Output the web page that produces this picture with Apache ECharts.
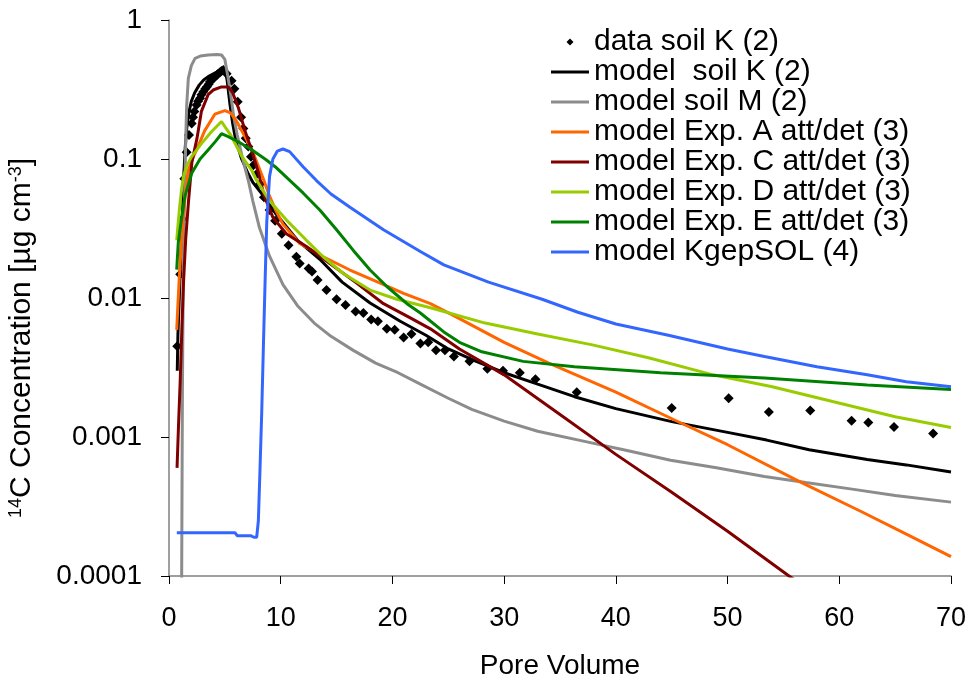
<!DOCTYPE html>
<html><head><meta charset="utf-8">
<script src="https://cdn.jsdelivr.net/npm/echarts@6/dist/echarts.min.js"></script>
<style>html,body{margin:0;padding:0;background:#fff}#c{width:969px;height:679px}</style>
</head><body><div id="c"></div>
<script>
const seriesNames = ['data soil K (2)','model  soil K (2)','model soil M (2)','model Exp. A att/det (3)','model Exp. C att/det (3)','model Exp. D att/det (3)','model Exp. E att/det (3)','model KgepSOL (4)'];
const seriesColors = ['#000000','#000000','#8c8c8c','#ff6600','#800000','#99cc00','#008000','#3366ff'];
const yTickLabels = ['0.0001','0.001','0.01','0.1','1'];

const dataSoilK = [[0.74,0.0045],[1.0,0.0148],[1.2,0.037],[1.37,0.072],[1.58,0.112],[1.79,0.149],[2.03,0.18],[2.15,0.2],[2.27,0.22],[2.47,0.245],[2.6,0.26],[2.78,0.273],[2.9,0.29],[3.07,0.305],[3.25,0.32],[3.4,0.331],[3.55,0.345],[3.67,0.36],[3.8,0.37],[3.97,0.38],[4.1,0.39],[4.27,0.40],[4.4,0.41],[4.57,0.42],[4.7,0.43],[4.86,0.437],[5.16,0.41],[5.6,0.366],[5.85,0.32],[6.15,0.258],[6.45,0.2],[6.65,0.166],[6.87,0.141],[7.1,0.123],[7.34,0.104],[7.55,0.09],[7.85,0.078],[8.15,0.066],[8.5,0.053],[9.0,0.043],[9.5,0.036],[10.1,0.029],[10.7,0.024],[11.4,0.0198],[11.7,0.0177],[12.5,0.0163],[12.8,0.0155],[13.3,0.0135],[14.1,0.0114],[15.0,0.0098],[15.8,0.0089],[16.7,0.008],[17.4,0.0078],[18.1,0.007],[18.7,0.0068],[19.5,0.006],[20.2,0.0059],[21.0,0.0052],[21.7,0.0055],[22.5,0.0047],[23.2,0.0048],[23.9,0.0042],[24.7,0.0042],[25.5,0.0038],[26.9,0.0035],[28.5,0.0031],[29.9,0.003],[31.4,0.0029],[32.8,0.0026],[36.5,0.0021],[45,0.00162],[50.1,0.0019],[53.7,0.00151],[57.4,0.00155],[61.1,0.00131],[62.6,0.00127],[64.9,0.00118],[68.4,0.00106]];

const modelSoilK = [[0.74,0.003],[0.8,0.0055],[1.0,0.015],[1.2,0.037],[1.3,0.07],[1.45,0.12],[1.6,0.17],[1.8,0.22],[2.0,0.26],[2.3,0.3],[2.7,0.34],[3.1,0.37],[3.6,0.395],[4.1,0.415],[4.5,0.43],[4.85,0.437],[5.05,0.42],[5.2,0.37],[5.45,0.25],[5.7,0.18],[5.95,0.14],[6.5,0.1],[7.1,0.078],[7.5,0.068],[8.4,0.055],[9.6,0.04],[11.5,0.026],[13.5,0.019],[15.5,0.013],[18,0.0092],[20.7,0.0068],[23,0.0054],[25,0.0043],[27.5,0.0035],[30,0.0029],[33,0.0024],[36.3,0.00195],[40,0.0016],[45,0.00129],[50,0.00108],[53.5,0.00095],[57.3,0.00081],[62.5,0.00069],[66,0.00063],[70,0.00056]];

const modelSoilM = [[1.12,0.00005],[1.15,0.0002],[1.2,0.002],[1.27,0.012],[1.35,0.035],[1.43,0.07],[1.5,0.14],[1.58,0.24],[1.73,0.38],[2.0,0.47],[2.33,0.53],[2.8,0.55],[3.5,0.56],[4.3,0.565],[4.7,0.56],[5.0,0.52],[5.25,0.4],[5.5,0.3],[5.8,0.2],[6.1,0.15],[6.6,0.1],[7.1,0.07],[7.5,0.05],[8.1,0.032],[9.0,0.02],[10.2,0.0125],[11.5,0.0088],[13,0.0066],[14.5,0.0053],[16.5,0.0042],[18.5,0.0034],[20.5,0.0029],[22.5,0.0024],[25,0.0019],[27.1,0.00158],[30,0.0013],[33,0.0011],[37.2,0.00093],[41,0.0008],[44.9,0.00068],[49,0.0006],[53.3,0.00052],[57,0.00047],[61.3,0.00042],[65,0.00038],[70,0.00034]];

const modelExpA = [[0.69,0.0059],[0.8,0.009],[0.92,0.014],[1.05,0.021],[1.22,0.034],[1.45,0.055],[1.73,0.083],[2.1,0.1],[2.5,0.118],[3.2,0.16],[4.1,0.21],[5.0,0.223],[5.5,0.215],[6.0,0.19],[6.6,0.155],[7.4,0.118],[7.9,0.093],[8.5,0.07],[9.0,0.054],[9.6,0.042],[10.2,0.034],[11.7,0.0247],[13.8,0.0198],[16.2,0.0159],[18.6,0.0131],[21,0.0108],[23.4,0.0091],[26,0.0071],[30,0.0048],[34,0.0034],[40,0.0021],[45.3,0.00132],[50,0.00088],[56.4,0.00048],[62,0.00029],[66,0.0002],[70,0.000138]];

const modelExpC = [[0.72,0.0006],[0.85,0.0012],[1.0,0.0025],[1.15,0.006],[1.3,0.013],[1.5,0.027],[1.75,0.05],[2.05,0.095],[2.5,0.14],[2.9,0.22],[3.5,0.29],[4.0,0.315],[4.7,0.33],[5.3,0.33],[5.7,0.3],[6.2,0.235],[6.8,0.16],[7.4,0.115],[8.0,0.08],[8.5,0.055],[9.3,0.038],[10.5,0.029],[12.3,0.0235],[14.4,0.0177],[16.8,0.0128],[19.2,0.0091],[21.6,0.0072],[23.4,0.006],[26,0.0043],[30,0.0028],[35,0.00145],[40,0.00075],[45,0.0004],[50,0.00021],[55.5,0.0001],[57,0.000083]];

const modelExpD = [[0.69,0.026],[0.8,0.033],[0.95,0.045],[1.1,0.058],[1.28,0.074],[1.6,0.09],[2.03,0.104],[2.9,0.129],[3.8,0.157],[4.7,0.186],[5.0,0.171],[5.5,0.15],[6.5,0.105],[7.4,0.083],[7.85,0.07],[9.0,0.05],[10.5,0.0365],[12.3,0.026],[13.8,0.0198],[15.6,0.015],[18,0.0114],[20.4,0.0098],[23.4,0.0085],[28.3,0.0066],[33,0.0055],[37.9,0.0046],[43,0.0037],[48.7,0.0028],[54,0.0023],[59.4,0.0018],[65,0.0014],[70,0.00117]];

const modelExpE = [[0.69,0.016],[0.83,0.025],[1.05,0.034],[1.43,0.054],[2.03,0.079],[2.78,0.1],[3.5,0.116],[4.2,0.135],[4.7,0.152],[5.3,0.145],[6.2,0.133],[7.3,0.118],[8.6,0.1],[9.5,0.088],[10.5,0.074],[12,0.057],[13.5,0.043],[15,0.031],[16.5,0.022],[18,0.0159],[19.5,0.0121],[21.3,0.0091],[22.5,0.0078],[24.6,0.0057],[26,0.0048],[28,0.0041],[31.7,0.0035],[36.3,0.0032],[44,0.0029],[53.3,0.00266],[62.5,0.00237],[70,0.0022]];

const modelKgepSOL = [[0.7,0.000205],[2,0.000205],[4,0.000205],[5.9,0.000205],[6.1,0.000195],[7.3,0.000195],[7.6,0.00019],[7.85,0.00019],[8.0,0.00025],[8.15,0.0006],[8.3,0.0015],[8.45,0.0045],[8.6,0.013],[8.75,0.035],[9.0,0.075],[9.3,0.1],[9.7,0.114],[10.2,0.118],[10.8,0.113],[12,0.088],[13.2,0.07],[14.5,0.056],[16.2,0.045],[19.2,0.031],[22.5,0.0216],[24.6,0.0173],[28.6,0.013],[33.4,0.0098],[36.6,0.0079],[40,0.0065],[44.7,0.0054],[50,0.0043],[53.3,0.0038],[58,0.0032],[62.5,0.0028],[66,0.0025],[70,0.0023]];

const allData = [dataSoilK, modelSoilK, modelSoilM, modelExpA, modelExpC, modelExpD, modelExpE, modelKgepSOL];
const FONT = '"Liberation Sans", Arial, sans-serif';
const LINE_ICON = 'path://M0,0H38V3H0Z';
const DIAMOND_ICON = 'path://M4,0L8,4L4,8L0,4Z';

const series = allData.map((d, i) => {
  if (i === 0) {
    return {name: seriesNames[0], type: 'scatter', data: d, symbol: 'diamond', symbolSize: 10,
      itemStyle: {color: seriesColors[0], opacity: 1}, z: 2};
  }
  return {name: seriesNames[i], type: 'line', data: d, symbol: 'none', showSymbol: false, clip: true,
    lineStyle: {color: seriesColors[i], width: 3}, itemStyle: {color: seriesColors[i]}, z: 3};
});

const chart = echarts.init(document.getElementById('c'));
chart.setOption({
  animation: false,
  backgroundColor: '#fff',
  grid: {left: 169, right: 18, top: 20, bottom: 103, containLabel: false, outerBoundsMode: 'none'},
  legend: {
    orient: 'vertical', left: 546, top: 22, itemWidth: 38, itemHeight: 7, itemGap: 0,
    textStyle: {fontFamily: FONT, fontSize: 30, color: '#000', lineHeight: 29.3},
    data: seriesNames.map((n, i) => ({name: n, icon: i === 0 ? DIAMOND_ICON : LINE_ICON}))
  },
  xAxis: {
    type: 'value', min: 0, max: 70, interval: 10,
    name: 'Pore Volume', nameLocation: 'middle', nameGap: 76,
    nameTextStyle: {fontFamily: FONT, fontSize: 28, color: '#000'},
    axisLine: {onZero: false, lineStyle: {color: '#808080', width: 1.5}},
    axisTick: {inside: false, length: 8, lineStyle: {color: '#000'}},
    axisLabel: {margin: 29, fontFamily: FONT, fontSize: 27, color: '#000'},
    splitLine: {show: false}
  },
  yAxis: {
    type: 'log', logBase: 10, min: 0.0001, max: 1,
    name: '{s|14}{n|C Concentration [µg cm}{s|-3}{n|]}',
    nameLocation: 'middle', nameGap: 132, nameRotate: 90,
    nameTextStyle: {
      fontFamily: FONT, color: '#000', padding: [0, 80, 0, 0],
      rich: {
        n: {fontFamily: FONT, fontSize: 30, lineHeight: 30, color: '#000'},
        s: {fontFamily: FONT, fontSize: 18, lineHeight: 18, verticalAlign: 'top', color: '#000'}
      }
    },
    axisLine: {show: true, lineStyle: {color: '#808080', width: 1.5}},
    axisTick: {inside: false, length: 8, lineStyle: {color: '#000'}},
    minorTick: {show: false},
    axisLabel: {margin: 27, fontFamily: FONT, fontSize: 28, color: '#000',
      formatter: v => yTickLabels[Math.round(Math.log10(v)) + 4]},
    splitLine: {show: false}
  },
  series: series
});
</script>
</body></html>
